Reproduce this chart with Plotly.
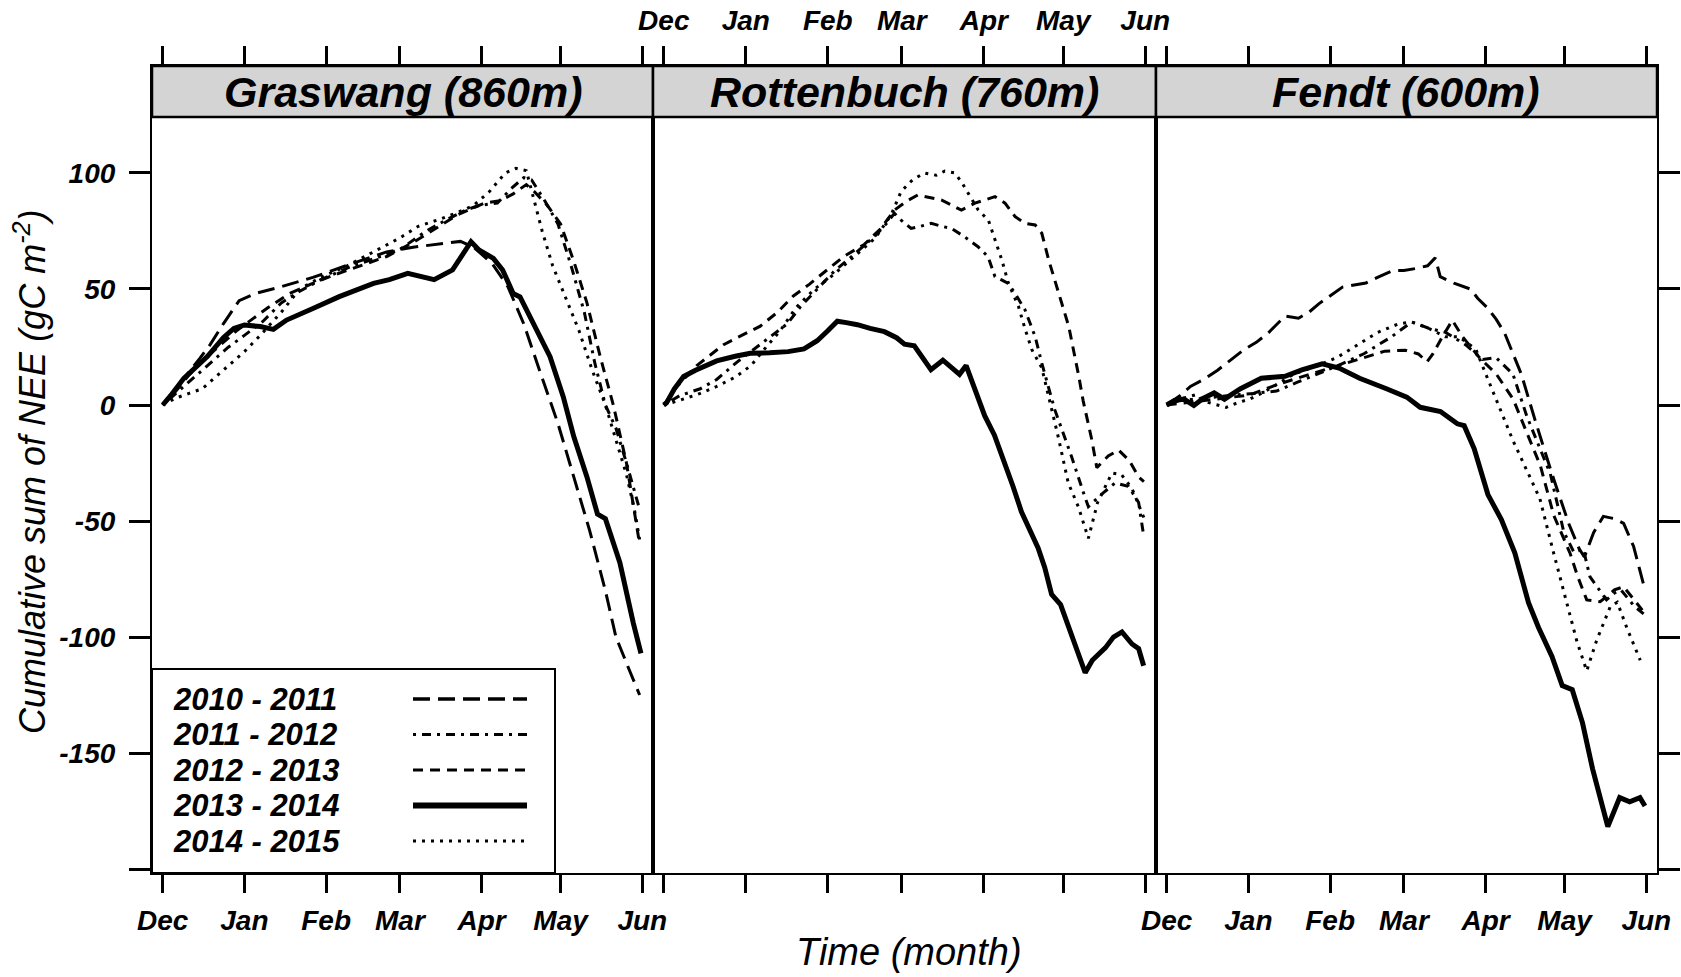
import plotly.graph_objects as go

# ---------------- data (day since 1 Dec, cumulative NEE gC m-2) ----------------
MONTHS = ["Dec", "Jan", "Feb", "Mar", "Apr", "May", "Jun"]
MONTH_DAY = [0, 31, 62, 90, 121, 151, 182]
SEASONS = ["2010 - 2011", "2011 - 2012", "2012 - 2013", "2013 - 2014", "2014 - 2015"]
SITES = ["Graswang (860m)", "Rottenbuch (760m)", "Fendt (600m)"]
Y_TICKS = [-150, -100, -50, 0, 50, 100]
Y_TICK_TEXT = ["-150", "-100", "-50", "0", "50", "100"]
Y_EXTRA_TICK = [-200]

GRAS_1011 = [(0, 0), (5, 7), (10, 14), (14, 20), (18, 26), (23, 35), (29, 45), (35, 48), (45, 51), (57, 55),
             (72, 61), (85, 66), (95, 68), (105, 69.5), (113, 70.5), (118, 68), (125, 61), (131, 51), (137, 35),
             (143, 15), (150, -8), (156, -31), (162, -54), (168, -80), (172, -100), (177, -114), (181, -125)]
GRAS_1112 = [(0, 0), (5, 5), (10, 10), (15, 15), (20, 20), (25, 25), (31, 30), (38, 36), (45, 44), (52, 49),
             (60, 54), (70, 59), (80, 63), (90, 67), (100, 75), (108, 80), (115, 84), (120, 86), (127, 87),
             (132, 93), (137, 98), (140, 97), (145, 88), (150, 78), (155, 60), (160, 40), (164, 18), (168, 0),
             (172, -10), (176, -25), (181, -45)]
GRAS_1213 = [(0, 0), (5, 6), (10, 13), (16, 20), (22, 26), (28, 32), (34, 37), (40, 42), (48, 48), (56, 52),
             (65, 56), (75, 60), (85, 64), (95, 70), (105, 77), (112, 82), (118, 85), (122, 87), (128, 88),
             (133, 91), (138, 95), (141, 92), (146, 86), (151, 78), (156, 62), (161, 44), (166, 21), (171, 0),
             (176, -25), (181, -60)]
GRAS_1314 = [(0, 0), (3, 4), (8, 11.5), (12, 16), (17, 21), (23, 29), (27, 33), (31, 34.5), (37, 33.8),
             (42, 32.6), (47, 36.6), (57, 41.6), (67, 46.7), (80, 52.4), (86, 54), (93, 56.7), (98, 55.5),
             (103, 54), (110, 58.2), (114, 65.4), (117, 70.4), (120, 66.8), (125.5, 63.2), (129, 58.2), (133, 48),
             (135.6, 46.6), (140.6, 35), (147, 20.8), (152, 3.6), (156, -13.6), (161, -31), (165, -47),
             (168, -49), (173.5, -68), (178.6, -94), (181.5, -107)]
GRAS_1415 = [(0, 0), (5, 3), (10, 5), (15, 7), (20, 12), (25, 17), (31, 23), (37, 30), (45, 40), (52, 50),
             (60, 55), (70, 60), (80, 66), (90, 72), (97, 77), (105, 80), (112, 83), (118, 86), (124, 92),
             (130, 100), (134, 102), (138, 101), (141, 88), (144, 75), (148, 60), (153, 46), (158, 32), (163, 15),
             (168, 0), (172, -15), (176, -30), (179, -45), (181, -58)]

ROTT_1112 = [(0, 0), (6, 4), (13.8, 7), (20, 11), (27.7, 18.5), (36.5, 26), (46.7, 35), (51.7, 42.4), (58, 50),
             (64.4, 57.6), (70, 63), (75, 68), (80, 73), (84, 78), (87.2, 82.6), (89.7, 79.7), (93.5, 76.1),
             (97, 77), (101.1, 78.3), (105, 77), (108.7, 76.1), (113.7, 72.5), (118.8, 68.2), (122.6, 63.9),
             (125.2, 55.3), (127.7, 53.9), (130.2, 52.4), (132.8, 48.1), (136.6, 40.9), (140.4, 29.4),
             (142.9, 18), (147.8, -2), (154.2, -22.4), (159.2, -39.7), (160.5, -43.8), (166, -38), (170.6, -33.6),
             (175.6, -35), (179.5, -42), (181.5, -57)]
ROTT_1213 = [(0, 0), (5, 8), (12.5, 17), (18, 22), (22.6, 26), (27.7, 29), (36.5, 34), (43, 40), (49, 47),
             (55, 52), (61.8, 58.4), (68, 64), (75.8, 69.2), (82, 76), (87.2, 84), (92, 88), (96, 90.5),
             (104.9, 88.4), (112.5, 84), (117.6, 87), (125.2, 89.8), (129, 87), (132.8, 81.2), (136.6, 78.3),
             (140.4, 77.6), (142.9, 74), (145.5, 62.5), (149.3, 48.1), (153.1, 33.8), (156.9, 12.3), (158.5, 2),
             (161.8, -15), (163.7, -27), (168, -22), (171.9, -19.4), (176, -24), (179.5, -31), (181.5, -33)]
ROTT_1314 = [(0, 0), (1.1, 1), (4, 7), (7.5, 12.3), (12, 15), (16, 17), (20, 19), (27, 21), (32.7, 22.3),
             (40, 22.5), (47, 23), (53, 24.2), (58, 27.7), (62, 32), (65.6, 36.1), (69, 35.5), (73.2, 34.6),
             (78, 33), (83.4, 31.6), (88, 29), (91, 26.2), (94.7, 25.5), (98, 20), (101, 15.2), (105.5, 19.3),
             (108, 17), (111.8, 13.2), (114.3, 17), (117, 9), (121.3, -4.6), (125, -13), (128.9, -24.6),
             (132, -35), (135.2, -46), (138, -53), (141.5, -61.6), (144, -70), (146.6, -81.6), (150, -86),
             (152.9, -95.4), (156, -105), (159.3, -115.4), (162, -110), (166.9, -104.7), (170, -100),
             (173.2, -97.8), (177, -103), (179.5, -105), (181.4, -112.4)]
ROTT_1415 = [(0, 0), (6, 2), (13.8, 5), (20, 8), (27, 12), (33, 17), (38, 24), (44, 32), (50, 42), (57, 50),
             (64, 56), (72, 64), (80, 72), (86, 82), (89.7, 92), (94, 97), (98.5, 100), (103, 99), (106.2, 100.8),
             (110, 100), (112.5, 96.2), (115.1, 91.2), (118.9, 84), (122.7, 79.7), (125.2, 71), (127.8, 62.5),
             (130.3, 52.4), (134.1, 42.4), (136.7, 32.3), (139.2, 23.7), (142.9, 16), (145.3, 5), (149.1, -13.7),
             (152.9, -33.6), (156.7, -43.8), (160.5, -57.5), (164, -42), (169.4, -29.3), (173, -30), (177, -36),
             (180.8, -46.6), (182, -50)]

FEND_1011 = [(0, 0), (1.3, 1), (5, 4), (9, 8), (14, 11), (19.3, 15), (24, 19), (29.5, 24), (34, 27), (38.5, 31),
             (42, 35), (44.9, 38.3), (50, 37.4), (54, 40), (57.7, 43.6), (62, 47), (66.7, 50.8), (70, 51.5),
             (75.6, 52.6), (80, 55), (85.9, 58), (90, 58), (94.9, 58.9), (99, 60), (101.9, 63.4), (103.8, 55.3),
             (109, 52.5), (115.4, 49.9), (118, 46), (121.8, 41.8), (125, 37), (128.2, 31.1), (131, 23),
             (134.6, 13.2), (139.8, -6.5), (146.2, -29.7), (152.6, -51.2), (156.5, -61.9), (158.5, -65.5),
             (162, -55), (165.7, -48), (170, -49), (173.4, -51), (177.2, -61), (180.9, -77)]
FEND_1112 = [(0, 0), (5, 2), (11, 2.5), (18, 3.5), (25, 4.3), (33, 5), (41.7, 6), (49.4, 9.7), (57.1, 13.3),
             (64.8, 16.9), (75, 22.2), (85.3, 29.4), (93, 35.8), (99.4, 33.1), (105.8, 31.3), (113.5, 25.9),
             (119.9, 19.6), (125, 20.4), (131.4, 13.3), (136.6, -4.6), (140.4, -15.3), (145.6, -29.7),
             (150.7, -54.7), (154.6, -63.6), (158.1, -62), (160.6, -74), (166.9, -84), (170, -81), (172.4, -79.7),
             (177.5, -86.8), (181, -90)]
FEND_1213 = [(0, 0), (8, 1), (15, 2), (22, 3), (31.4, 4.3), (41.7, 8.7), (54.5, 13.3), (64.8, 16.9), (75.1, 20.5),
             (82.8, 23.2), (90.5, 23.6), (95.5, 22), (98.8, 18.6), (101, 22), (104.6, 29.4), (108.4, 36.5),
             (112.3, 29.4), (118.7, 20.4), (125.1, 13.3), (131.5, 2.5), (136.6, -11.8), (141.8, -26.1),
             (146.9, -47.6), (153.1, -64), (156, -74), (159.4, -84), (164.5, -84.8), (169.9, -79.7),
             (173.4, -78.3), (177, -83.2), (180.5, -88.4)]
FEND_1314 = [(0, 0), (3, 2), (6.5, 2.5), (10.3, -0.2), (14, 3), (18, 5.2), (21.9, 2.5), (28, 7), (35.9, 11.5),
             (44.9, 12.4), (51.3, 15.1), (59, 17.7), (65.4, 15.9), (73.2, 11.5), (83.4, 7), (91.1, 3.4),
             (96.2, -1), (103.9, -2.8), (110.3, -8.1), (112.9, -8.9), (116.7, -18.9), (121.9, -38.6), (127, -49.4),
             (132.1, -63.7), (137.3, -85.2), (141.1, -95.9), (146.2, -108.4), (150.1, -120.9), (153.9, -122.7),
             (157.8, -137), (161.6, -156.7), (164.5, -170), (167.4, -181.7), (171.9, -169.2), (175.7, -171),
             (179.6, -169.2), (181.5, -172.8)]
FEND_1415 = [(0, 0), (5, 2.5), (10.9, 4.4), (16, 1), (22.5, -1), (27, 1), (31.4, 2.5), (36, 5), (40.4, 7.9),
             (48.1, 13.3), (57.1, 16.9), (64.8, 20.6), (72.4, 25.9), (80.1, 31.3), (87.8, 34.9), (92.9, 35.8),
             (99.3, 33.1), (105.7, 29.4), (110.9, 29.4), (117.3, 24), (121.1, 13.3), (126.2, -1), (131.4, -15.3),
             (136.5, -27.8), (141.6, -40.3), (146.8, -63.6), (151.9, -85), (155.7, -102), (159.4, -114.6),
             (163.2, -101.3), (168.3, -87), (171, -85), (174.6, -96), (179.7, -110)]

SITE_SERIES = [
    {"2010 - 2011": GRAS_1011, "2011 - 2012": GRAS_1112, "2012 - 2013": GRAS_1213,
     "2013 - 2014": GRAS_1314, "2014 - 2015": GRAS_1415},
    {"2011 - 2012": ROTT_1112, "2012 - 2013": ROTT_1213, "2013 - 2014": ROTT_1314, "2014 - 2015": ROTT_1415},
    {"2010 - 2011": FEND_1011, "2011 - 2012": FEND_1112, "2012 - 2013": FEND_1213,
     "2013 - 2014": FEND_1314, "2014 - 2015": FEND_1415},
]

# ---------------- styles ----------------
STYLE = {
    "2010 - 2011": dict(dash="17px,8px", width=3.0),
    "2011 - 2012": dict(dash="3px,6px,9px,6px", width=3.0),
    "2012 - 2013": dict(dash="10px,7px", width=3.0),
    "2013 - 2014": dict(dash="solid", width=5.0),
    "2014 - 2015": dict(dash="3px,6px", width=3.0),
}
LEG_WIDTH = {"2010 - 2011": 3.6, "2011 - 2012": 3.0, "2012 - 2013": 3.2, "2013 - 2014": 6.0, "2014 - 2015": 3.0}

FONT = "Liberation Sans, Arial, Helvetica, sans-serif"
W, H = 1681, 977
ML, MT = 152, 66
PW, PH = 1505, 807
MR, MB = W - ML - PW, H - MT - PH
PANEL_PX = [(152, 653), (653, 1156), (1156, 1657)]
DOMS = [[(a - ML) / PW, (b - ML) / PW] for a, b in PANEL_PX]
STRIP_Y0 = (873 - 117) / PH
X_RANGE = [-4.07, 186.07]
Y_RANGE = [-201.7, 146.1]


def px(xr):
    return (xr - ML) / PW


def py(yr):
    return (MT + PH - yr) / PH


fig = go.Figure()
for i, series in enumerate(SITE_SERIES):
    ax = "" if i == 0 else str(i + 1)
    for season in SEASONS:
        if season not in series:
            continue
        pts = series[season]
        fig.add_trace(go.Scatter(
            x=[p[0] for p in pts], y=[p[1] for p in pts], mode="lines",
            line=dict(color="black", width=STYLE[season]["width"], dash=STYLE[season]["dash"]),
            name=season, showlegend=False, hoverinfo="skip",
            xaxis="x" + ax, yaxis="y" + ax))

tickfont = dict(family=FONT, size=28, color="black", weight="bold", style="italic")
layout = dict(width=W, height=H, margin=dict(l=ML, r=MR, t=MT, b=MB, autoexpand=False),
              paper_bgcolor="white", plot_bgcolor="white", showlegend=False)
for i in range(3):
    ax = "" if i == 0 else str(i + 1)
    layout["xaxis" + ax] = dict(
        domain=DOMS[i], range=X_RANGE, anchor="y" + ax, side="top" if i == 1 else "bottom",
        tickmode="array", tickvals=MONTH_DAY, ticktext=MONTHS, ticks="outside", ticklen=18,
        tickwidth=2.5, tickcolor="black", showline=True, linecolor="black", linewidth=2.2,
        mirror="ticks", showgrid=False, zeroline=False, tickfont=tickfont,
        ticklabelstandoff=5 if i == 1 else 3, fixedrange=True)
    ydict = dict(domain=[0, 1], range=Y_RANGE, anchor="x" + ax, showline=True, linecolor="black",
                 linewidth=2.2, mirror=True, showgrid=False, zeroline=False, fixedrange=True)
    if i == 0:
        ydict.update(tickmode="array", tickvals=Y_TICKS, ticktext=Y_TICK_TEXT, tickfont=tickfont,
                     ticks="outside", ticklen=21, tickwidth=2.5, tickcolor="black", showticklabels=True,
                     ticklabelstandoff=8,
                     minor=dict(tickmode="array", tickvals=Y_EXTRA_TICK, ticks="outside", ticklen=21,
                                tickwidth=2.5, tickcolor="black", showgrid=False))
    elif i == 1:
        ydict.update(ticks="", showticklabels=False)
    else:
        ydict.update(tickmode="array", tickvals=Y_TICKS, side="right", ticks="outside", ticklen=21,
                     tickwidth=2.5, tickcolor="black", showticklabels=False,
                     minor=dict(tickmode="array", tickvals=Y_EXTRA_TICK, ticks="outside", ticklen=21,
                                tickwidth=2.5, tickcolor="black", showgrid=False))
    layout["yaxis" + ax] = ydict

shapes, annotations = [], []
for i, site in enumerate(SITES):
    shapes.append(dict(type="rect", xref="paper", yref="paper", x0=DOMS[i][0], x1=DOMS[i][1],
                       y0=STRIP_Y0, y1=1, fillcolor="#d4d4d4", line=dict(color="black", width=2.5),
                       layer="above"))
    annotations.append(dict(text=site, xref="paper", yref="paper", x=(DOMS[i][0] + DOMS[i][1]) / 2,
                            y=py(91.5), xanchor="center", yanchor="middle", showarrow=False,
                            font=dict(family=FONT, size=43, color="black", weight="bold", style="italic")))

# key (legend) box inside the first panel
shapes.append(dict(type="rect", xref="paper", yref="paper", x0=0, x1=px(555), y0=0, y1=py(669),
                   fillcolor="white", line=dict(color="black", width=2), layer="above"))
ROW_Y = [699, 734.5, 770, 805.5, 841]
for season, ry in zip(SEASONS, ROW_Y):
    annotations.append(dict(text=season, xref="paper", yref="paper", x=px(172), y=py(ry),
                            xanchor="left", yanchor="middle", showarrow=False, borderpad=0,
                            font=dict(family=FONT, size=31, color="black", weight="bold", style="italic")))
    shapes.append(dict(type="line", xref="paper", yref="paper", x0=px(413), x1=px(527),
                       y0=py(ry), y1=py(ry), layer="above",
                       line=dict(color="black", width=LEG_WIDTH[season], dash=STYLE[season]["dash"])))

annotations.append(dict(text="Time (month)", xref="paper", yref="paper", x=px(909), y=py(952),
                        xanchor="center", yanchor="middle", showarrow=False,
                        font=dict(family=FONT, size=38, color="black", style="italic")))
annotations.append(dict(text="Cumulative sum of NEE (gC m<sup>-2</sup>)", xref="paper", yref="paper",
                        x=px(30), y=py(472), xanchor="center", yanchor="middle",
                        textangle=-90, showarrow=False,
                        font=dict(family=FONT, size=36, color="black", style="italic")))
layout["shapes"] = shapes
layout["annotations"] = annotations
fig.update_layout(**layout)
# remove the default 8px page margin so the figure fills the window exactly
fig.write_html("out.html", config={"displayModeBar": False},
               post_script="document.body.style.margin='0px';")
